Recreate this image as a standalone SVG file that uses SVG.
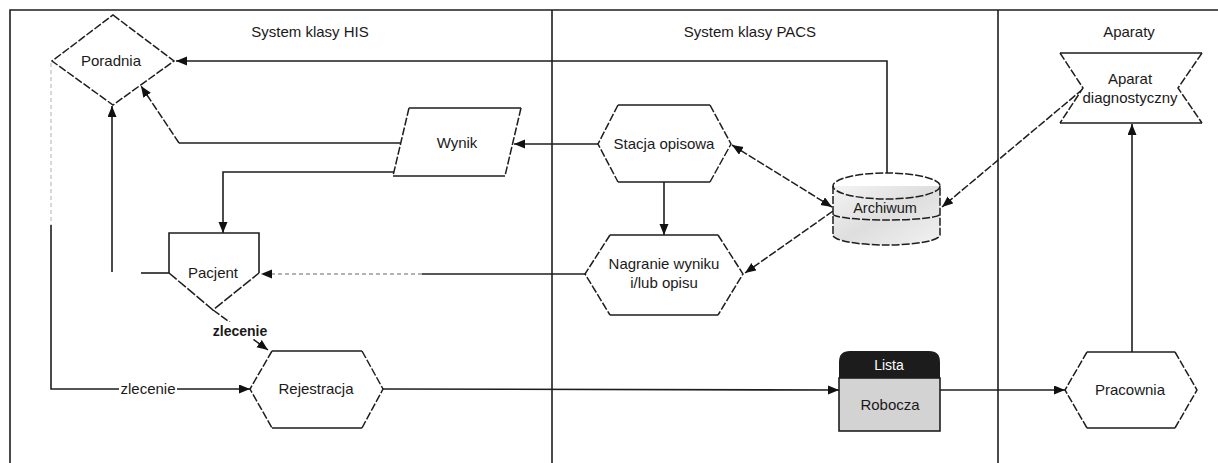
<svg xmlns="http://www.w3.org/2000/svg" width="1218" height="463" viewBox="0 0 1218 463">
<defs>
<style>
.ln{fill:none;stroke:#1e1e1e;stroke-width:1.6}
.dl{fill:none;stroke:#1e1e1e;stroke-width:1.5;stroke-dasharray:8 2}
.fa{fill:none;stroke:#c4c4c4;stroke-width:1.3;stroke-dasharray:4 3}
.bg{fill:#ffffff;stroke:none}
.t{font-family:"Liberation Sans",Arial,sans-serif;font-size:15px;fill:#1a1a1a;text-anchor:middle}
.lane{font-family:"Liberation Sans",Arial,sans-serif;font-size:15px;fill:#1a1a1a;text-anchor:middle}
.arr{marker-end:url(#ah)}
</style>
<marker id="ah" markerUnits="userSpaceOnUse" markerWidth="12" markerHeight="10" refX="11" refY="4.5" orient="auto-start-reverse">
<path d="M0,0 L11,4.5 L0,9 Z" fill="#111"/>
</marker>
<linearGradient id="cyl" x1="0" y1="0" x2="1" y2="1">
<stop offset="0" stop-color="#f4f4f4"/>
<stop offset="0.5" stop-color="#dedede"/>
<stop offset="1" stop-color="#f2f2f2"/>
</linearGradient>
</defs>
<rect x="0" y="0" width="1218" height="463" fill="#ffffff"/>

<g id="frame">
<path class="ln" d="M10,463 V10 H1218"/>
<path class="ln" d="M552,10 V463"/>
<path class="ln" d="M998,10 V463"/>
<text class="lane" x="310" y="37">System klasy HIS</text>
<text class="lane" x="750" y="37">System klasy PACS</text>
<text class="lane" x="1129" y="37">Aparaty</text>
</g>

<g id="connectors">
<path class="ln arr" d="M887,173 V61 H176"/>
<path class="ln" d="M401,143 H179"/>
<path class="dl arr" d="M179,143 L141,86"/>
<path class="ln arr" d="M395,172 H223 V233"/>
<path class="ln" d="M169,273 H141"/>
<path class="ln arr" d="M112,272 V106"/>
<path class="fa" d="M51,63 V225"/>
<path class="ln arr" d="M51,225 V389 H250"/>
<rect class="bg" x="119" y="380" width="58" height="18"/>
<text class="t" x="148" y="394">zlecenie</text>
<path class="dl arr" d="M213,310 L268,350"/>
<rect class="bg" x="210" y="322" width="60" height="17"/>
<text class="t" x="240" y="336" style="font-weight:bold;font-size:14px">zlecenie</text>
<path class="ln arr" d="M383,389 L839,390"/>
<path class="ln arr" d="M940,390 H1065"/>
<path class="ln arr" d="M1132,352 V124"/>
<path class="dl arr" d="M1083,89 L942,207"/>
<path class="ln arr" d="M598,144 H514"/>
<path class="dl arr" d="M832,207 L732,145" style="marker-start:url(#ah)"/>
<path class="ln arr" d="M664,182 V235"/>
<path class="dl arr" d="M833,211 L745,273"/>
<path class="ln" d="M585,274 H422"/>
<path class="fa arr" d="M422,274 H261" style="stroke:#9a9a9a"/>
</g>

<g id="poradnia">
<polygon points="113,15 174,61 113,105 52,61" fill="#fff" class="dl"/>
<text class="t" x="111" y="66">Poradnia</text>
</g>

<g id="wynik">
<polygon points="409,108 521,108 505,176 393,176" class="bg"/>
<path class="ln" d="M409,108 H521 M393,176 H505"/>
<path class="dl" d="M521,108 L505,176 M409,108 L393,176"/>
<text class="t" x="457" y="148">Wynik</text>
</g>

<g id="pacjent">
<polygon points="169,233 259,233 259,273 213,310 169,273" class="bg"/>
<path class="ln" d="M169,273 V233 H259 V273"/>
<path class="dl" d="M169,273 L213,310 L259,273" style="stroke-dasharray:10 2"/>
<text class="t" x="213" y="278">Pacjent</text>
</g>

<g id="rejestracja">
<polygon points="272,351 362,351 383,389 362,428 272,428 250,389" class="bg"/>
<path class="ln" d="M272,351 H362 M272,428 H362"/>
<path class="dl" d="M362,351 L383,389 L362,428 M272,351 L250,389 L272,428"/>
<text class="t" x="316" y="394">Rejestracja</text>
</g>

<g id="stacja">
<polygon points="618,105 710,105 731,144 710,182 618,182 598,144" class="bg"/>
<path class="ln" d="M618,105 H710 M618,182 H710"/>
<path class="dl" d="M710,105 L731,144 L710,182 M618,105 L598,144 L618,182"/>
<text class="t" x="664" y="149">Stacja opisowa</text>
</g>

<g id="nagranie">
<polygon points="610,235 718,235 743,274 718,315 610,315 585,274" class="bg"/>
<path class="ln" d="M610,235 H718 M610,315 H718"/>
<path class="dl" d="M718,235 L743,274 L718,315 M610,235 L585,274 L610,315"/>
<text class="t" x="664" y="269">Nagranie wyniku</text>
<text class="t" x="664" y="288">i/lub opisu</text>
</g>

<g id="archiwum">
<path d="M833,186 V235 A53.5,10 0 0 0 940,235 V186 Z" fill="url(#cyl)"/>
<ellipse cx="886.5" cy="186" rx="53.5" ry="13" fill="#ffffff" class="dl"/>
<path class="dl" d="M833,186 V235 A53.5,10 0 0 0 940,235 V186"/>
<path class="dl" d="M833,214 A53.5,6 0 0 0 940,214"/>
<text class="t" x="885" y="213" style="font-size:14.5px">Archiwum</text>
</g>

<g id="lista">
<rect x="839" y="378" width="101" height="53" fill="#d3d3d3" stroke="#1e1e1e" stroke-width="1.6"/>
<path d="M839,378 V362 Q839,351 850,351 H929 Q940,351 940,362 V378 Z" fill="#1c1c1c"/>
<text class="t" x="889" y="370" style="fill:#ffffff;font-size:14px">Lista</text>
<text class="t" x="890" y="410">Robocza</text>
</g>

<g id="pracownia">
<polygon points="1087,352 1175,352 1197,390 1175,428 1087,428 1065,390" class="bg"/>
<path class="ln" d="M1087,352 H1175 M1087,428 H1175"/>
<path class="dl" d="M1175,352 L1197,390 L1175,428 M1087,352 L1065,390 L1087,428"/>
<text class="t" x="1130" y="395">Pracownia</text>
</g>

<g id="aparat">
<polygon points="1060,53 1202,53 1178,88 1202,123 1060,123 1083,88" class="bg"/>
<path class="ln" d="M1060,53 H1202 M1060,123 H1202"/>
<path class="dl" d="M1202,53 L1178,88 L1202,123 M1060,53 L1083,88 L1060,123"/>
<text class="t" x="1130" y="84">Aparat</text>
<text class="t" x="1130" y="103">diagnostyczny</text>
</g>
</svg>
